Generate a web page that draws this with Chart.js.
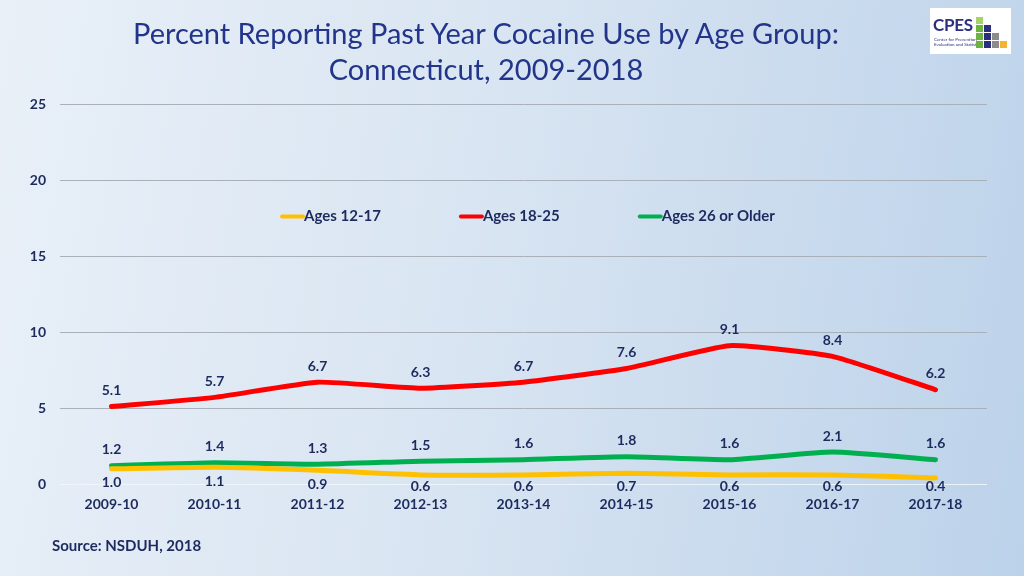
<!DOCTYPE html>
<html>
<head>
<meta charset="utf-8">
<script src="https://cdn.jsdelivr.net/npm/chart.js@4.4.1/dist/chart.umd.min.js"></script>
<style>
  html, body { margin: 0; padding: 0; }
  body {
    width: 1024px; height: 576px; overflow: hidden; position: relative;
    background: linear-gradient(100deg, #e9f0f8 0%, #d9e5f2 45%, #bcd2ea 100%);
    font-family: Lato, "Open Sans", sans-serif;
  }
  #wrap { position: absolute; left: 0; top: 0; width: 1024px; height: 576px; }
  .title {
    position: absolute; left: 0; width: 972px; text-align: center;
    color: #22358a; font-size: 29px; line-height: 36px; top: 15px;
  }
  .source {
    position: absolute; left: 52px; top: 536px; font-weight: bold;
    font-size: 15px; color: #1d2a5e;
  }
  .logo {
    position: absolute; left: 930px; top: 8px; width: 81px; height: 46px; background: #fff;
  }
  .logo .name { position: absolute; left: 3px; top: 6px; font-weight: bold; font-size: 17px; color: #2b3080; letter-spacing: -0.3px; }
  .logo .sub { position: absolute; left: 4px; top: 29px; font-size: 4.5px; line-height: 5px; color: #2b3080; }
  .logo .sq { position: absolute; width: 7px; height: 7px; }
</style>
</head>
<body>
<div id="wrap"><canvas id="myChart" width="1024" height="576"></canvas></div>
<div class="title">Percent Reporting Past Year Cocaine Use by Age Group:<br>Connecticut, 2009-2018</div>
<div class="source">Source: NSDUH, 2018</div>
<div class="logo" id="logo">
  <div class="name">CPES</div>
  <div class="sub">Center for Prevention<br>Evaluation and Statistics</div>
</div>
<script>
// DATA
const years = ["2009-10", "2010-11", "2011-12", "2012-13", "2013-14", "2014-15", "2015-16", "2016-17", "2017-18"];
const ages1217 = [1.0, 1.1, 0.9, 0.6, 0.6, 0.7, 0.6, 0.6, 0.4];
const ages1825 = [5.1, 5.7, 6.7, 6.3, 6.7, 7.6, 9.1, 8.4, 6.2];
const ages26up = [1.2, 1.4, 1.3, 1.5, 1.6, 1.8, 1.6, 2.1, 1.6];
const yTicks = [0, 5, 10, 15, 20, 25];

const navy = "#1d2a5e";
const font = "Lato, 'Open Sans', sans-serif";

// logo squares (staircase)
const logo = document.getElementById("logo");
const sqCols = ["#8cc63f", "#2b2f7e", "#8c8c8c", "#f5b335"];
for (let r = 0; r < 4; r++) {
  for (let c = 0; c <= r; c++) {
    const d = document.createElement("div");
    d.className = "sq";
    d.style.left = (46 + c * 8) + "px";
    d.style.top = (9 + r * 8) + "px";
    d.style.background = c === 0 ? (r === 0 ? "#a5d36a" : "#6db33f") : sqCols[c];
    logo.appendChild(d);
  }
}

// data labels + legend drawn in the plot
const labelsPlugin = {
  id: "labelsPlugin",
  afterDatasetsDraw(chart) {
    const c = chart.ctx;
    c.save();
    c.font = "bold 14px " + font;
    c.fillStyle = navy;
    c.textAlign = "center";
    c.textBaseline = "middle";
    chart.data.datasets.forEach((ds, i) => {
      const meta = chart.getDatasetMeta(i);
      meta.data.forEach((pt, j) => {
        let y = ds.labelBelow ? Math.min(pt.y + 14, 486) : pt.y - 16;
        c.fillText(ds.data[j].toFixed(1), pt.x, y);
      });
    });

    // legend
    c.font = "bold 15px " + font;
    c.textAlign = "left";
    const lineW = 24, gap = 78;
    const widths = chart.data.datasets.map(ds => lineW + c.measureText(ds.label).width);
    const total = widths.reduce((a, b) => a + b, 0) + gap * (widths.length - 1);
    const area = chart.chartArea;
    let x = (area.left + area.right) / 2 + 4 - total / 2;
    const y = chart.scales.y.getPixelForValue(17.6);
    chart.data.datasets.forEach((ds, i) => {
      c.strokeStyle = ds.borderColor;
      c.lineWidth = 4;
      c.lineCap = "round";
      c.beginPath();
      c.moveTo(x + 2, y);
      c.lineTo(x + lineW - 1, y);
      c.stroke();
      c.fillStyle = navy;
      c.fillText(ds.label, x + lineW, y);
      x += widths[i] + gap;
    });
    c.restore();
  }
};

const ctx = document.getElementById("myChart").getContext("2d");
const chart = new Chart(ctx, {
  type: "line",
  data: {
    labels: years,
    datasets: [
      { label: "Ages 12-17", data: ages1217, borderColor: "#ffc000", labelBelow: true },
      { label: "Ages 18-25", data: ages1825, borderColor: "#ff0000" },
      { label: "Ages 26 or Older", data: ages26up, borderColor: "#00b050" },
    ].map(d => Object.assign(d, {
      borderWidth: 5,
      pointRadius: 0,
      tension: 0.15,
      fill: false,
      borderCapStyle: "round",
    })),
  },
  options: {
    responsive: false,
    animation: false,
    layout: { padding: { top: 104, right: 37, left: 0, bottom: 0 } },
    plugins: {
      legend: { display: false },
      tooltip: { enabled: false },
    },
    scales: {
      x: {
        offset: true,
        grid: { display: false, drawTicks: false },
        border: { display: false },
        ticks: {
          padding: 12,
          color: navy,
          font: { family: font, size: 14, weight: "bold" },
          maxRotation: 0,
        },
        afterFit(scale) { scale.height = 92; },
      },
      y: {
        min: 0,
        max: 25,
        afterBuildTicks(scale) { scale.ticks = yTicks.map(v => ({ value: v })); },
        grid: {
          drawTicks: false,
          lineWidth: 1,
          color: c => (c.tick && c.tick.value === 0 ? "rgba(240,246,252,0.9)" : "#a9b0ba"),
        },
        border: { display: false },
        ticks: {
          padding: 14,
          color: navy,
          font: { family: font, size: 14, weight: "bold" },
        },
        afterFit(scale) { scale.width = 60; },
      },
    },
  },
  plugins: [labelsPlugin],
});
</script>
</body>
</html>
